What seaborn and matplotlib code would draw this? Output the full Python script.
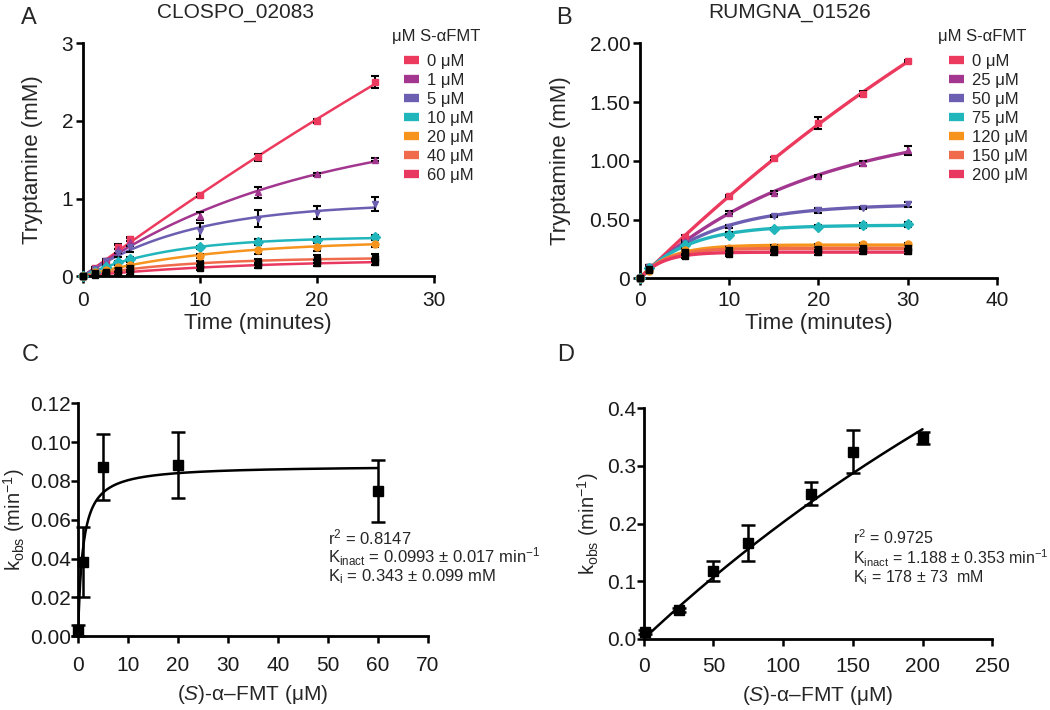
import matplotlib
matplotlib.use("Agg")
import matplotlib.pyplot as plt
from matplotlib.lines import Line2D
import numpy as np
import pandas as pd
import seaborn as sns

# ---- data: panel A (CLOSPO_02083) ----
time_a = [0, 1, 2, 3, 4, 10, 15, 20, 25]
labels_a = ['0 μM', '1 μM', '5 μM', '10 μM', '20 μM', '40 μM', '60 μM']
tryp_a = [
    [0, 0.10, 0.20, 0.38, 0.48, 1.04, 1.53, 2.00, 2.50],
    [0, 0.10, 0.20, 0.35, 0.44, 0.78, 1.08, 1.31, 1.50],
    [0, 0.09, 0.19, 0.30, 0.38, 0.58, 0.74, 0.82, 0.93],
    [0, 0.06, 0.12, 0.18, 0.22, 0.37, 0.44, 0.47, 0.50],
    [0, 0.05, 0.08, 0.12, 0.15, 0.26, 0.34, 0.38, 0.42],
    [0, 0.04, 0.05, 0.08, 0.10, 0.16, 0.18, 0.22, 0.24],
    [0, 0.02, 0.04, 0.04, 0.05, 0.11, 0.14, 0.17, 0.18],
]
err_a = [
    [0, 0.02, 0.02, 0.03, 0.03, 0.02, 0.04, 0.03, 0.08],
    [0, 0.02, 0.02, 0.05, 0.05, 0.05, 0.07, 0.02, 0.02],
    [0, 0.02, 0.02, 0.05, 0.07, 0.10, 0.11, 0.08, 0.09],
    [0, 0.02, 0.02, 0.02, 0.03, 0.02, 0.04, 0.04, 0.03],
    [0, 0.01, 0.02, 0.02, 0.03, 0.02, 0.06, 0.06, 0.05],
    [0, 0.01, 0.02, 0.03, 0.04, 0.03, 0.04, 0.05, 0.05],
    [0, 0.01, 0.02, 0.02, 0.03, 0.03, 0.03, 0.04, 0.04],
]

# ---- data: panel B (RUMGNA_01526) ----
time_b = [0, 1, 5, 10, 15, 20, 25, 30]
labels_b = ['0 μM', '25 μM', '50 μM', '75 μM', '120 μM', '150 μM', '200 μM']
tryp_b = [
    [0, 0.10, 0.35, 0.70, 1.02, 1.32, 1.57, 1.85],
    [0, 0.10, 0.32, 0.56, 0.73, 0.87, 0.98, 1.09],
    [0, 0.10, 0.30, 0.44, 0.53, 0.58, 0.60, 0.63],
    [0, 0.09, 0.28, 0.37, 0.42, 0.44, 0.45, 0.46],
    [0, 0.06, 0.24, 0.26, 0.27, 0.28, 0.29, 0.29],
    [0, 0.07, 0.22, 0.24, 0.25, 0.25, 0.26, 0.26],
    [0, 0.08, 0.19, 0.21, 0.22, 0.22, 0.23, 0.23],
]
err_b = [
    [0, 0.01, 0.02, 0.01, 0.01, 0.05, 0.02, 0.01],
    [0, 0.01, 0.01, 0.01, 0.01, 0.01, 0.02, 0.04],
    [0, 0.01, 0.02, 0.01, 0.01, 0.02, 0.01, 0.02],
    [0, 0.01, 0.02, 0.02, 0.01, 0.01, 0.02, 0.02],
    [0, 0.01, 0.01, 0.01, 0.01, 0.01, 0.01, 0.01],
    [0, 0.02, 0.02, 0.03, 0.02, 0.03, 0.03, 0.03],
    [0, 0.02, 0.02, 0.02, 0.02, 0.02, 0.02, 0.02],
]

series_colors = ['#ec3a5e', '#a3368f', '#6c5fb2', '#20b6bb', '#f7941d', '#f06a4c', '#e9385f']
marker_a = ['s', '^', 'v', 'D', 'o', 's', 's']
marker_face = ['#ec3a5e', '#a3368f', '#6c5fb2', '#20b6bb', '#f7941d', 'black', 'black']

# ---- data: panel C / D (k_obs vs inhibitor) ----
conc_c = [0, 1, 5, 20, 60]
kobs_c = [0.003, 0.038, 0.087, 0.088, 0.075]
kerr_c = [0.003, 0.018, 0.017, 0.017, 0.016]
fit_c = (0.088, 0.95)       # plateau, half-saturation of drawn curve
stats_c = ['r$^2$ = 0.8147',
           'K$_{\\rm inact}$ = 0.0993 ± 0.017 min$^{-1}$',
           'K$_{\\rm i}$ = 0.343 ± 0.099 mM']

conc_d = [1, 25, 50, 75, 120, 150, 200]
kobs_d = [0.012, 0.050, 0.118, 0.166, 0.252, 0.325, 0.348]
kerr_d = [0.004, 0.003, 0.017, 0.031, 0.020, 0.037, 0.010]
fit_d = (1.80, 790.0)
stats_d = ['r$^2$ = 0.9725',
           'K$_{\\rm inact}$ = 1.188 ± 0.353 min$^{-1}$',
           'K$_{\\rm i}$ = 178 ± 73  mM']


def fit_curve(t, y):
    # fit y = v*(1-exp(-k t))/k by grid search over k
    t = np.asarray(t, float)
    y = np.asarray(y, float)
    best = None
    for k in np.logspace(-4, 1, 600):
        f = (1 - np.exp(-k * t)) / k
        v = f @ y / (f @ f)
        sse = np.sum((v * f - y) ** 2)
        if best is None or sse < best[0]:
            best = (sse, v, k)
    tt = np.linspace(0, t.max(), 200)
    return tt, best[1] * (1 - np.exp(-best[2] * tt)) / best[2]


sns.set_theme(style="ticks")
plt.rcParams['font.family'] = ['Liberation Sans', 'DejaVu Sans']
plt.rcParams['mathtext.fontset'] = 'custom'
plt.rcParams['mathtext.rm'] = 'Liberation Sans'
plt.rcParams['mathtext.it'] = 'Liberation Sans:italic'

W, H = 1050, 710
fig = plt.figure(figsize=(10.5, 7.1), dpi=100)
axA = fig.add_axes([0.079, 0.611, 0.334, 0.328])
axB = fig.add_axes([0.6095, 0.608, 0.340, 0.331])
axC = fig.add_axes([0.0743, 0.104, 0.333, 0.328])
axD = fig.add_axes([0.613, 0.100, 0.332, 0.325])


def time_panel(ax, times, vals, errs, labels, lw):
    rows = []
    for lab, y in zip(labels, vals):
        tt, yy = fit_curve(times, y)
        rows.append(pd.DataFrame({'t': tt, 'y': yy, 'conc': lab}))
    df = pd.concat(rows)
    sns.lineplot(data=df, x='t', y='y', hue='conc', palette=series_colors,
                 linewidth=lw, legend=False, ax=ax, zorder=2)
    for i, (y, e) in enumerate(zip(vals, errs)):
        ax.errorbar(times, y, yerr=e, fmt=marker_a[i], ms=5,
                    mfc=marker_face[i], mec=marker_face[i], ecolor='black',
                    elinewidth=1.5, capsize=3, capthick=1.5, zorder=3,
                    clip_on=False)
    return [Line2D([], [], color=c, lw=6, solid_capstyle='butt') for c in series_colors]


hA = time_panel(axA, time_a, tryp_a, err_a, labels_a, 1.8)
hB = time_panel(axB, time_b, tryp_b, err_b, labels_b, 2.4)

for ax in (axA, axB):
    ax.set_xlabel('Time (minutes)', fontsize=16, labelpad=2)
    ax.set_ylabel('Tryptamine (mM)', fontsize=16, labelpad=13)

axA.set_xlim(0, 30)
axA.set_ylim(0, 3)
axA.set_xticks([0, 10, 20, 30])
axA.set_yticks([0, 1, 2, 3])

axB.set_xlim(0, 40)
axB.set_ylim(0, 2)
axB.set_xticks([0, 10, 20, 30, 40])
axB.set_yticks([0, 0.5, 1.0, 1.5, 2.0])
axB.set_yticklabels(['0', '0.50', '1.00', '1.50', '2.00'])

# legends: title as separate text, handles indented below it
for ax, handles, labels, tx, hx in [(axA, hA, labels_a, 392, 404),
                                    (axB, hB, labels_b, 938, 949)]:
    fig.text(tx / W, 1 - 37 / H, 'μM S-αFMT', fontsize=12, ha='left', va='center')
    ax.legend(handles, labels, frameon=False, fontsize=12, loc='upper left',
              handlelength=0.9, handletextpad=0.5, labelspacing=0.24,
              borderpad=0, borderaxespad=0,
              bbox_to_anchor=(hx / W, 1 - 54 / H), bbox_transform=fig.transFigure)

# ---- panel C ----
xc = np.linspace(0, max(conc_c), 400)
curve_c = pd.DataFrame({'x': xc, 'y': fit_c[0] * xc / (fit_c[1] + xc)})
sns.lineplot(data=curve_c, x='x', y='y', color='black', linewidth=1.8, ax=axC)
axC.errorbar(conc_c, kobs_c, yerr=kerr_c, fmt='s', ms=6.5, color='black',
             elinewidth=1.8, capsize=5, capthick=1.8, clip_on=False, zorder=3)
axC.set_xlim(0, 70)
axC.set_ylim(0, 0.12)
axC.set_xticks(range(0, 71, 10))
axC.set_yticks(np.arange(0, 0.121, 0.02))
axC.set_yticklabels([f'{v:.2f}' for v in np.arange(0, 0.121, 0.02)])
for i, line in enumerate(stats_c):
    fig.text(328 / W, 1 - (537 + 20 * i) / H, line, fontsize=12, va='center')

# ---- panel D ----
xd = np.linspace(0, max(conc_d), 400)
curve_d = pd.DataFrame({'x': xd, 'y': fit_d[0] * xd / (fit_d[1] + xd)})
sns.lineplot(data=curve_d, x='x', y='y', color='black', linewidth=1.8, ax=axD)
axD.errorbar(conc_d, kobs_d, yerr=kerr_d, fmt='s', ms=6.5, color='black',
             elinewidth=1.8, capsize=5, capthick=1.8, clip_on=False, zorder=3)
axD.set_xlim(0, 250)
axD.set_ylim(0, 0.4)
axD.set_xticks(range(0, 251, 50))
axD.set_yticks([0, 0.1, 0.2, 0.3, 0.4])
axD.set_yticklabels(['0.0', '0.1', '0.2', '0.3', '0.4'])
for i, line in enumerate(stats_d):
    fig.text(853 / W, 1 - (538 + 20 * i) / H, line, fontsize=11.5, va='center')

for ax in (axC, axD):
    ax.set_xlabel('($\\mathit{S}$)-α–FMT (μM)', fontsize=15, labelpad=6)
axC.set_ylabel('k$_{\\rm obs}$ (min$^{-1}$)', fontsize=14.5, labelpad=2)
axD.set_ylabel('k$_{\\rm obs}$ (min$^{-1}$)', fontsize=14.5, labelpad=5)

for ax in (axA, axB, axC, axD):
    sns.despine(ax=ax)
    for s in ('left', 'bottom'):
        ax.spines[s].set_linewidth(2)
        ax.spines[s].set_color('black')
    ax.tick_params(axis='both', labelsize=15, width=1.8, length=5,
                   color='black', labelcolor='#1a1a1a')

axA.tick_params(axis='x', pad=6)
axA.tick_params(axis='y', pad=2)
axB.tick_params(axis='x', pad=4)
axB.tick_params(axis='y', pad=2)
axC.tick_params(axis='x', pad=9)
axC.tick_params(axis='y', pad=0)
axD.tick_params(axis='x', pad=8)
axD.tick_params(axis='y', pad=0)

fig.text(235 / W, 1 - 12 / H, 'CLOSPO_02083', fontsize=15, ha='center', va='center')
fig.text(790 / W, 1 - 12 / H, 'RUMGNA_01526', fontsize=15, ha='center', va='center')
for lab, x, y in [('A', 21, 18), ('B', 556, 18), ('C', 22, 355), ('D', 557, 355)]:
    fig.text(x / W, 1 - y / H, lab, fontsize=17, ha='left', va='center')

fig.savefig('out.png', dpi=100)
